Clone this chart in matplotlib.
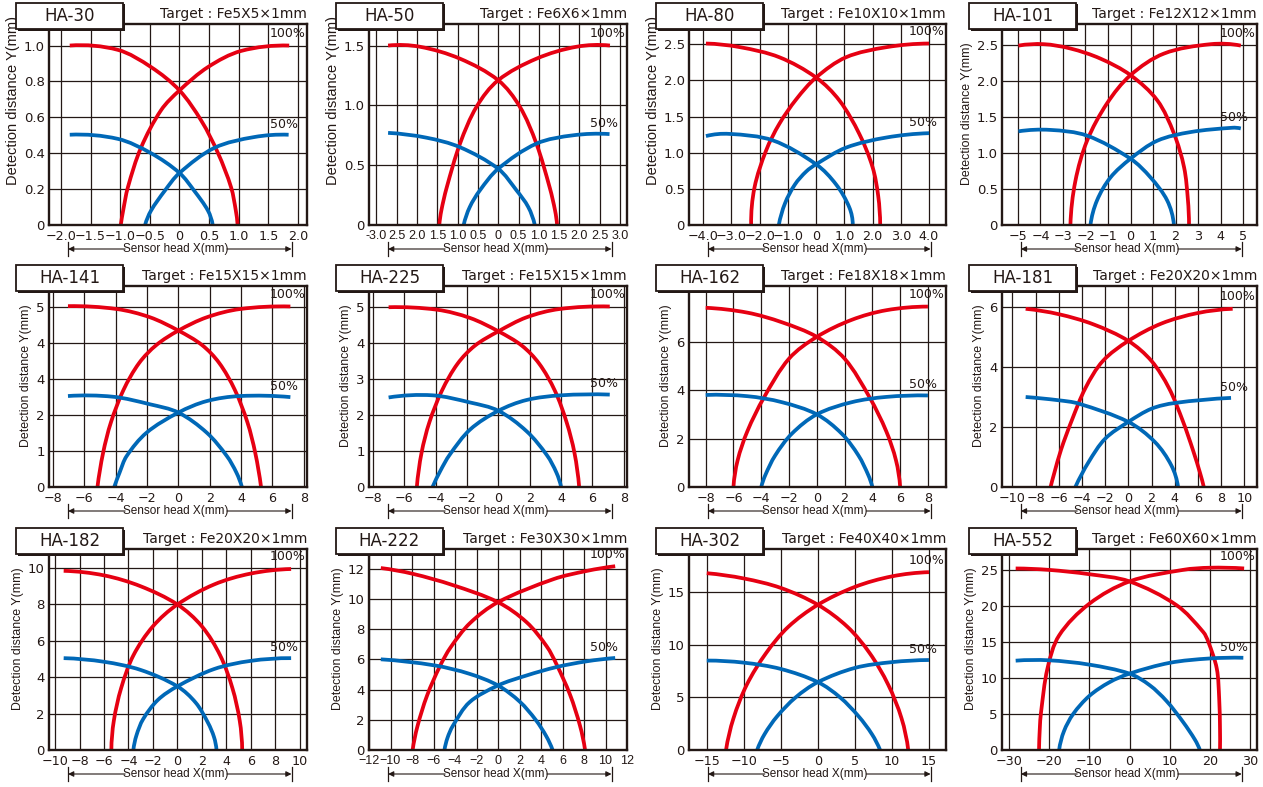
import matplotlib
matplotlib.use("Agg")
import matplotlib.pyplot as plt
from matplotlib.patches import Rectangle, PathPatch
from matplotlib.path import Path
import numpy as np

# ---------------- data ----------------
M = "\u2212"
titles = ["HA-30", "HA-50", "HA-80", "HA-101",
          "HA-141", "HA-225", "HA-162", "HA-181",
          "HA-182", "HA-222", "HA-302", "HA-552"]
targets = ["Target : Fe5X5×1mm", "Target : Fe6X6×1mm", "Target : Fe10X10×1mm", "Target : Fe12X12×1mm",
           "Target : Fe15X15×1mm", "Target : Fe15X15×1mm", "Target : Fe18X18×1mm", "Target : Fe20X20×1mm",
           "Target : Fe20X20×1mm", "Target : Fe30X30×1mm", "Target : Fe40X40×1mm", "Target : Fe60X60×1mm"]

ha30_xticks = [-2.0, -1.5, -1.0, -0.5, 0, 0.5, 1.0, 1.5, 2.0]
ha30_xlabels = [M+"2.0", M+"1.5", M+"1.0", M+"0.5", "0", "0.5", "1.0", "1.5", "2.0"]
ha30_yticks = [0, 0.2, 0.4, 0.6, 0.8, 1.0]
ha30_ylabels = ["0", "0.2", "0.4", "0.6", "0.8", "1.0"]
ha30_red_down = [(-1.85, 1.0), (-1.04, 0.976), (-0.48, 0.88), (0, 0.75), (0.37, 0.58), (0.65, 0.40), (0.87, 0.21), (0.95, 0.08), (0.98, 0)]
ha30_red_up = [(-0.99, 0), (-0.95, 0.08), (-0.87, 0.21), (-0.65, 0.43), (-0.31, 0.64), (0, 0.75), (0.48, 0.88), (1.04, 0.97), (1.85, 1.0)]
ha30_blue_down = [(-1.85, 0.503), (-1.04, 0.48), (-0.48, 0.40), (0, 0.29), (0.25, 0.19), (0.48, 0.08), (0.56, 0)]
ha30_blue_up = [(-0.58, 0), (-0.48, 0.08), (-0.25, 0.19), (0, 0.29), (0.59, 0.43), (1.26, 0.49), (1.84, 0.503)]

ha50_xticks = [-3.0, -2.5, -2.0, -1.5, -1.0, -0.5, 0, 0.5, 1.0, 1.5, 2.0, 2.5, 3.0]
ha50_xlabels = ["-3.0", "2.5", "2.0", "1.5", "1.0", "0.5", "0", "0.5", "1.0", "1.5", "2.0", "2.5", "3.0"]
ha50_yticks = [0, 0.5, 1.0, 1.5]
ha50_ylabels = ["0", "0.5", "1.0", "1.5"]
ha50_red_down = [(-2.71, 1.5), (-1.93, 1.49), (-0.94, 1.39), (0, 1.21), (0.53, 0.99), (0.94, 0.68), (1.27, 0.31), (1.4, 0.12), (1.45, 0)]
ha50_red_up = [(-1.45, 0), (-1.4, 0.12), (-1.27, 0.31), (-0.94, 0.68), (-0.53, 0.99), (0, 1.21), (0.94, 1.39), (1.93, 1.49), (2.75, 1.5)]
ha50_blue_down = [(-2.71, 0.77), (-1.77, 0.73), (-0.94, 0.65), (0, 0.47), (0.45, 0.29), (0.74, 0.15), (0.9, 0)]
ha50_blue_up = [(-0.85, 0), (-0.7, 0.15), (-0.45, 0.29), (0, 0.47), (0.94, 0.68), (1.85, 0.75), (2.74, 0.76)]

ha80_xticks = [-4.0, -3.0, -2.0, -1.0, 0, 1.0, 2.0, 3.0, 4.0]
ha80_xlabels = [M+"4.0", M+"3.0", M+"2.0", M+"1.0", "0", "1.0", "2.0", "3.0", "4.0"]
ha80_yticks = [0, 0.5, 1.0, 1.5, 2.0, 2.5]
ha80_ylabels = ["0", "0.5", "1.0", "1.5", "2.0", "2.5"]
ha80_red_down = [(-3.9, 2.51), (-2.7, 2.46), (-1.3, 2.32), (0, 2.04), (0.83, 1.72), (1.53, 1.26), (2.0, 0.8), (2.2, 0.4), (2.27, 0)]
ha80_red_up = [(-2.3, 0), (-2.18, 0.52), (-1.77, 1.03), (-1.3, 1.4), (-0.7, 1.74), (0, 2.04), (1.06, 2.32), (2.5, 2.46), (4.0, 2.51)]
ha80_blue_down = [(-3.9, 1.23), (-3.07, 1.26), (-1.53, 1.17), (0, 0.84), (0.71, 0.56), (1.18, 0.24), (1.3, 0)]
ha80_blue_up = [(-1.32, 0), (-1.1, 0.3), (-0.75, 0.56), (-0.35, 0.74), (0, 0.84), (1.06, 1.07), (2.49, 1.21), (4.0, 1.27)]

ha101_xticks = [-5, -4, -3, -2, -1, 0, 1, 2, 3, 4, 5]
ha101_xlabels = [M+"5", M+"4", M+"3", M+"2", M+"1", "0", "1", "2", "3", "4", "5"]
ha101_yticks = [0, 0.5, 1.0, 1.5, 2.0, 2.5]
ha101_ylabels = ["0", "0.5", "1.0", "1.5", "2.0", "2.5"]
ha101_red_down = [(-4.98, 2.49), (-3.86, 2.51), (-2.67, 2.45), (-1.34, 2.31), (0, 2.08), (1.19, 1.73), (1.93, 1.27), (2.38, 0.8), (2.55, 0.35), (2.6, 0)]
ha101_red_up = [(-2.67, 0), (-2.45, 0.61), (-1.93, 1.17), (-1.04, 1.69), (0, 2.08), (1.49, 2.38), (3.57, 2.51), (4.9, 2.49)]
ha101_blue_down = [(-4.98, 1.30), (-3.57, 1.32), (-1.93, 1.24), (0, 0.92), (0.89, 0.66), (1.63, 0.34), (1.93, 0)]
ha101_blue_up = [(-1.78, 0), (-1.49, 0.34), (-0.89, 0.66), (0, 0.92), (1.19, 1.17), (2.67, 1.29), (4.53, 1.35), (4.9, 1.34)]

ha141_xticks = [-8, -6, -4, -2, 0, 2, 4, 6, 8]
ha141_xlabels = [M+"8", M+"6", M+"4", M+"2", "0", "2", "4", "6", "8"]
ha141_yticks = [0, 1, 2, 3, 4, 5]
ha141_ylabels = ["0", "1", "2", "4", "4", "5"]
ha141_red_down = [(-7.04, 5.03), (-3.94, 4.95), (-1.81, 4.72), (0, 4.35), (1.5, 3.95), (2.6, 3.45), (3.6, 2.7), (4.4, 1.8), (4.9, 0.95), (5.27, 0)]
ha141_red_up = [(-5.16, 0), (-4.8, 0.95), (-4.3, 1.8), (-3.5, 2.7), (-2.5, 3.45), (-1.4, 3.95), (0, 4.35), (1.81, 4.72), (3.94, 4.95), (7.14, 5.02)]
ha141_blue_down = [(-7.04, 2.53), (-4.16, 2.51), (-1.81, 2.3), (0, 2.07), (1.81, 1.51), (3.09, 0.86), (3.7, 0.4), (4.05, 0)]
ha141_blue_up = [(-4.09, 0), (-3.75, 0.4), (-3.3, 0.86), (-2.03, 1.51), (0, 2.07), (1.81, 2.39), (3.94, 2.53), (7.14, 2.5)]

ha225_xticks = [-8, -6, -4, -2, 0, 2, 4, 6, 8]
ha225_xlabels = [M+"8", M+"6", M+"4", M+"2", "0", "2", "4", "6", "8"]
ha225_yticks = [0, 1, 2, 3, 4, 5]
ha225_ylabels = ["0", "1", "2", "3", "4", "5"]
ha225_red_down = [(-7.0, 5.0), (-3.9, 4.93), (-1.8, 4.7), (0, 4.33), (1.5, 3.93), (2.6, 3.43), (3.6, 2.68), (4.35, 1.8), (4.85, 0.95), (5.15, 0)]
ha225_red_up = [(-5.2, 0), (-4.9, 0.95), (-4.4, 1.8), (-3.6, 2.68), (-2.6, 3.43), (-1.5, 3.93), (0, 4.33), (1.8, 4.72), (3.9, 4.95), (7.1, 5.02)]
ha225_blue_down = [(-7.0, 2.49), (-4.2, 2.55), (-1.8, 2.35), (0, 2.12), (1.8, 1.55), (3.1, 0.88), (3.7, 0.4), (4.0, 0)]
ha225_blue_up = [(-4.2, 0), (-3.7, 0.45), (-3.1, 0.9), (-1.8, 1.6), (0, 2.12), (1.8, 2.42), (4.0, 2.55), (7.1, 2.57)]

ha162_xticks = [-8, -6, -4, -2, 0, 2, 4, 6, 8]
ha162_xlabels = [M+"8", M+"6", M+"4", M+"2", "0", "2", "4", "6", "8"]
ha162_yticks = [0, 2, 4, 6]
ha162_ylabels = ["0", "2", "4", "6"]
ha162_red_down = [(-8, 7.4), (-5, 7.2), (-2.5, 6.8), (0, 6.2), (2, 5.3), (3.8, 3.7), (5, 2.3), (5.7, 1.1), (6.0, 0)]
ha162_red_up = [(-6.0, 0), (-5.7, 1.1), (-5, 2.3), (-3.8, 3.7), (-2, 5.3), (0, 6.2), (2.5, 6.9), (5, 7.3), (8, 7.45)]
ha162_blue_down = [(-8, 3.8), (-5, 3.75), (-2.5, 3.5), (0, 3.0), (1.8, 2.2), (3.0, 1.3), (3.7, 0.5), (4.0, 0)]
ha162_blue_up = [(-4.0, 0), (-3.7, 0.5), (-3.0, 1.3), (-1.8, 2.2), (0, 3.0), (2.5, 3.5), (5, 3.72), (8, 3.78)]

ha181_xticks = [-10, -8, -6, -4, -2, 0, 2, 4, 6, 8, 10]
ha181_xlabels = [M+"10", M+"8", M+"6", M+"4", M+"2", "0", "2", "4", "6", "8", "10"]
ha181_yticks = [0, 2, 4, 6]
ha181_ylabels = ["0", "2", "4", "6"]
ha181_red_down = [(-8.86, 5.94), (-6, 5.76), (-3, 5.42), (0, 4.87), (2, 4.2), (3.5, 3.3), (4.7, 2.2), (5.6, 1.2), (6.2, 0.45), (6.51, 0)]
ha181_red_up = [(-6.71, 0), (-6.4, 0.45), (-5.8, 1.25), (-4.9, 2.2), (-3.7, 3.3), (-2.2, 4.2), (0, 4.87), (2.86, 5.45), (6, 5.8), (9, 5.94)]
ha181_blue_down = [(-8.86, 3.0), (-6, 2.89), (-4.29, 2.78), (0, 2.17), (2.29, 1.5), (3.71, 0.72), (4.29, 0)]
ha181_blue_up = [(-4.57, 0), (-3.43, 0.83), (-2, 1.61), (0, 2.17), (2, 2.61), (4, 2.8), (8.86, 2.97)]

ha182_xticks = [-10, -8, -6, -4, -2, 0, 2, 4, 6, 8, 10]
ha182_xlabels = [M+"10", M+"8", M+"6", M+"4", M+"2", "0", "2", "4", "6", "8", "10"]
ha182_yticks = [0, 2, 4, 6, 8, 10]
ha182_ylabels = ["0", "2", "4", "6", "8", "10"]
ha182_red_down = [(-9.3, 9.85), (-6, 9.6), (-3, 9.0), (0, 8.0), (2, 6.8), (3.5, 5.2), (4.5, 3.4), (5.1, 1.6), (5.3, 0)]
ha182_red_up = [(-5.4, 0), (-5.2, 1.6), (-4.6, 3.4), (-3.6, 5.2), (-2, 6.8), (0, 8.0), (3, 9.1), (6, 9.7), (9.3, 9.95)]
ha182_blue_down = [(-9.3, 5.05), (-6, 4.85), (-3, 4.4), (0, 3.5), (1.5, 2.6), (2.5, 1.5), (3.0, 0.7), (3.2, 0)]
ha182_blue_up = [(-3.6, 0), (-3.35, 0.8), (-2.8, 1.7), (-1.6, 2.75), (0, 3.5), (3, 4.45), (6, 4.9), (9.3, 5.05)]

ha222_xticks = [-12, -10, -8, -6, -4, -2, 0, 2, 4, 6, 8, 10, 12]
ha222_xlabels = [M+"12", M+"10", M+"8", M+"6", M+"4", M+"2", "0", "2", "4", "6", "8", "10", "12"]
ha222_yticks = [0, 2, 4, 6, 8, 10, 12]
ha222_ylabels = ["0", "2", "4", "6", "8", "10", "12"]
ha222_red_down = [(-10.9, 12.04), (-7.94, 11.66), (-4.2, 10.91), (0, 9.78), (2.65, 8.46), (4.52, 6.87), (5.45, 5.66), (6.7, 3.66), (7.63, 1.6), (8.1, 0)]
ha222_red_up = [(-7.94, 0), (-7.5, 1.55), (-6.6, 3.6), (-5.4, 5.55), (-4.4, 6.8), (-2.6, 8.4), (0, 9.78), (5.14, 11.3), (8.26, 11.85), (10.9, 12.16)]
ha222_blue_down = [(-10.9, 6.0), (-5.92, 5.6), (-2.65, 5.04), (0, 4.27), (2.02, 3.2), (3.5, 2.0), (4.5, 0.9), (5.08, 0)]
ha222_blue_up = [(-4.98, 0), (-4.7, 0.8), (-4.2, 1.6), (-2.65, 3.16), (0, 4.27), (2.65, 4.93), (5.45, 5.49), (8.26, 5.87), (10.9, 6.09)]

ha302_xticks = [-15, -10, -5, 0, 5, 10, 15]
ha302_xlabels = [M+"15", M+"10", M+"5", "0", "5", "10", "15"]
ha302_yticks = [0, 5, 10, 15]
ha302_ylabels = ["0", "5", "10", "15"]
ha302_red_down = [(-15, 16.8), (-10, 16.3), (-5, 15.4), (0, 13.8), (4, 11.7), (7, 9.2), (9.5, 6.2), (11.3, 3.0), (12.2, 0)]
ha302_red_up = [(-12.4, 0), (-11.4, 3.0), (-9.6, 6.2), (-7, 9.2), (-4, 11.7), (0, 13.8), (5, 15.5), (10, 16.5), (15, 16.9)]
ha302_blue_down = [(-15, 8.5), (-10, 8.3), (-5, 7.7), (0, 6.45), (3, 5.0), (5.5, 3.2), (7.3, 1.5), (8.4, 0)]
ha302_blue_up = [(-8.2, 0), (-7.2, 1.5), (-5.5, 3.2), (-3, 5.0), (0, 6.45), (5, 7.8), (10, 8.35), (15, 8.55)]

ha552_xticks = [-30, -20, -10, 0, 10, 20, 30]
ha552_xlabels = [M+"30", M+"20", M+"10", "0", "10", "20", "30"]
ha552_yticks = [0, 5, 10, 15, 20, 25]
ha552_ylabels = ["0", "5", "10", "15", "20", "25"]
ha552_red_down = [(-28.3, 25.2), (-20, 25.0), (-10, 24.4), (0, 23.4), (11.7, 20.1), (18.3, 16.4), (19.6, 15.0), (21.7, 11.3), (22.3, 7.1), (22.5, 3.0), (22.5, 0)]
ha552_red_up = [(-22.5, 0), (-22.3, 3.0), (-22, 5.2), (-20.4, 11.3), (-17.5, 15.9), (-10, 20.3), (0, 23.4), (13.3, 25.0), (20, 25.3), (28.5, 25.2)]
ha552_blue_down = [(-28.3, 12.4), (-20, 12.45), (-10, 11.85), (0, 10.6), (5, 9.0), (9.2, 6.8), (13.3, 3.9), (16.3, 1.4), (17.5, 0)]
ha552_blue_up = [(-17.5, 0), (-16.3, 2.6), (-14, 5.0), (-10, 7.5), (-5, 9.4), (0, 10.6), (10, 12.1), (19.8, 12.7), (28.3, 12.8)]

xticks = [ha30_xticks, ha50_xticks, ha80_xticks, ha101_xticks, ha141_xticks, ha225_xticks,
          ha162_xticks, ha181_xticks, ha182_xticks, ha222_xticks, ha302_xticks, ha552_xticks]
xlabels = [ha30_xlabels, ha50_xlabels, ha80_xlabels, ha101_xlabels, ha141_xlabels, ha225_xlabels,
           ha162_xlabels, ha181_xlabels, ha182_xlabels, ha222_xlabels, ha302_xlabels, ha552_xlabels]
yticks = [ha30_yticks, ha50_yticks, ha80_yticks, ha101_yticks, ha141_yticks, ha225_yticks,
          ha162_yticks, ha181_yticks, ha182_yticks, ha222_yticks, ha302_yticks, ha552_yticks]
ylabels = [ha30_ylabels, ha50_ylabels, ha80_ylabels, ha101_ylabels, ha141_ylabels, ha225_ylabels,
           ha162_ylabels, ha181_ylabels, ha182_ylabels, ha222_ylabels, ha302_ylabels, ha552_ylabels]
red_down = [ha30_red_down, ha50_red_down, ha80_red_down, ha101_red_down, ha141_red_down, ha225_red_down,
            ha162_red_down, ha181_red_down, ha182_red_down, ha222_red_down, ha302_red_down, ha552_red_down]
red_up = [ha30_red_up, ha50_red_up, ha80_red_up, ha101_red_up, ha141_red_up, ha225_red_up,
          ha162_red_up, ha181_red_up, ha182_red_up, ha222_red_up, ha302_red_up, ha552_red_up]
blue_down = [ha30_blue_down, ha50_blue_down, ha80_blue_down, ha101_blue_down, ha141_blue_down, ha225_blue_down,
             ha162_blue_down, ha181_blue_down, ha182_blue_down, ha222_blue_down, ha302_blue_down, ha552_blue_down]
blue_up = [ha30_blue_up, ha50_blue_up, ha80_blue_up, ha101_blue_up, ha141_blue_up, ha225_blue_up,
           ha162_blue_up, ha181_blue_up, ha182_blue_up, ha222_blue_up, ha302_blue_up, ha552_blue_up]

# ---------------- layout / style ----------------
xlims = [(-2.2, 2.15), (-3.18, 3.17), (-4.5, 4.6), (-5.71, 5.62),
         (-8.25, 8.2), (-8.25, 8.2), (-9.2, 9.3), (-10.9, 11.1),
         (-10.5, 10.6), (-12.0, 12.0), (-17.4, 17.3), (-31.7, 31.7)]
ylims = [(0, 1.12), (0, 1.68), (0, 2.78), (0, 2.79),
         (0, 5.59), (0, 5.59), (0, 8.3), (0, 6.7),
         (0, 11.05), (0, 13.3), (0, 19.1), (0, 27.9)]
ylabel_size = [10.5, 10.5, 10.5, 8.9, 8.9, 8.9, 8.9, 8.9, 8.9, 8.9, 8.9, 8.9]
narrow_xticks = [False, True, False, False, False, False, False, False, False, True, False, False]

W, H = 1263, 787
col_left = [49, 369, 689, 1002]
col_w = [258, 258, 257, 255]
row_top = [24, 286, 549]
AX_H = 201

RED = "#e60012"
BLUE = "#0068b7"
INK = "#231815"
NARROW = ["Liberation Sans", "DejaVu Sans"]
plt.rcParams["font.family"] = ["DejaVu Sans"]

fig = plt.figure(figsize=(W / 100, H / 100), dpi=100)
fig.patch.set_facecolor("white")


def fx(px):
    return px / W


def fy(py):
    return 1 - py / H


def smooth_curve(ax, pts, wpx, hpx, color):
    """Draw a smooth Bezier path through the read points (chord-length Hermite)."""
    x0, x1 = ax.get_xlim()
    y0, y1 = ax.get_ylim()
    sx = (x1 - x0) / wpx
    sy = (y1 - y0) / hpx
    P = np.array([((x - x0) / sx, (y - y0) / sy) for x, y in pts], dtype=float)
    n = len(P)
    d = np.linalg.norm(np.diff(P, axis=0), axis=1)
    T = np.zeros_like(P)
    for k in range(1, n - 1):
        T[k] = (P[k + 1] - P[k - 1]) / (d[k - 1] + d[k])
    T[0] = 2 * (P[1] - P[0]) / d[0] - T[1]
    T[-1] = 2 * (P[-1] - P[-2]) / d[-1] - T[-2]
    verts = [P[0]]
    codes = [Path.MOVETO]
    for k in range(n - 1):
        verts.append(P[k] + T[k] * d[k] / 3)
        verts.append(P[k + 1] - T[k + 1] * d[k] / 3)
        verts.append(P[k + 1])
        codes += [Path.CURVE4] * 3
    V = np.array(verts)
    V[:, 0] = V[:, 0] * sx + x0
    V[:, 1] = V[:, 1] * sy + y0
    patch = PathPatch(Path(V, codes), facecolor="none", edgecolor=color, lw=2.7,
                      capstyle="butt", joinstyle="round", clip_on=False, zorder=4)
    ax.add_patch(patch)


for i in range(12):
    r, c = divmod(i, 4)
    L, T, Wd = col_left[c], row_top[r], col_w[c]
    ax = fig.add_axes([fx(L), fy(T + AX_H), Wd / W, AX_H / H])
    ax.set_xlim(*xlims[i])
    ax.set_ylim(*ylims[i])
    ax.set_xticks(xticks[i])
    if narrow_xticks[i]:
        ax.set_xticklabels(xlabels[i], family=NARROW, fontsize=9)
    else:
        ax.set_xticklabels(xlabels[i], fontsize=9.2)
    ax.set_yticks(yticks[i])
    ax.set_yticklabels(ylabels[i], fontsize=9.5)
    ax.tick_params(axis="x", length=0, pad=3.6, colors=INK)
    ax.tick_params(axis="y", length=0, pad=3, colors=INK)
    ax.grid(True, color=INK, lw=0.9)
    ax.set_axisbelow(True)
    for s in ax.spines.values():
        s.set_color(INK)
        s.set_linewidth(1.7)
        s.set_zorder(5)

    for pts, col in ((red_down[i], RED), (red_up[i], RED), (blue_down[i], BLUE), (blue_up[i], BLUE)):
        smooth_curve(ax, pts, Wd, AX_H, col)

    ax.annotate("100%", xy=(0.995, red_up[i][-1][1]), xycoords=("axes fraction", "data"),
                xytext=(0, 4), textcoords="offset points", ha="right", va="bottom",
                fontsize=9, color=INK, zorder=6)
    ax.annotate("50%", xy=(0.965, blue_up[i][-1][1]), xycoords=("axes fraction", "data"),
                xytext=(0, 3), textcoords="offset points", ha="right", va="bottom",
                fontsize=9, color=INK, zorder=6)

    ax.set_ylabel("Detection distance Y(mm)", fontsize=ylabel_size[i], color=INK,
                  ha="left", y=0.2, labelpad=3, family=NARROW)

    # x axis caption with arrows
    yc = -24 / AX_H
    ax.text(0.49, yc, "Sensor head X(mm)", transform=ax.transAxes, ha="center", va="center",
            fontsize=8.5, color=INK, family=NARROW)
    ap = dict(arrowstyle="-|>", color=INK, lw=0.8, mutation_scale=8, shrinkA=0, shrinkB=0)
    ax.annotate("", xy=(0.074, yc), xytext=(0.295, yc), xycoords="axes fraction", arrowprops=ap)
    ax.annotate("", xy=(0.94, yc), xytext=(0.69, yc), xycoords="axes fraction", arrowprops=ap)
    for bx in (0.074, 0.94):
        ax.plot([bx, bx], [yc - 0.035, yc + 0.035], transform=ax.transAxes, color=INK, lw=0.9,
                clip_on=False)

    # target text
    ax.text(1.0, 1.0 + 6 / AX_H, targets[i], transform=ax.transAxes, ha="right", va="baseline",
            fontsize=10, color=INK)

    # title box
    bx0, bx1 = L - 33, L + 74
    by0, by1 = T - 21, T + 5
    shadow = Rectangle((fx(bx0 + 1.5), fy(by1 + 1.5)), (bx1 - bx0) / W, (by1 - by0) / H,
                       transform=fig.transFigure, facecolor=INK, edgecolor=INK, lw=0, zorder=10)
    box = Rectangle((fx(bx0), fy(by1)), (bx1 - bx0) / W, (by1 - by0) / H,
                    transform=fig.transFigure, facecolor="white", edgecolor=INK, lw=1.3, zorder=11)
    fig.add_artist(shadow)
    fig.add_artist(box)
    fig.text(fx((bx0 + bx1) / 2), fy((by0 + by1) / 2), titles[i], ha="center", va="center",
             fontsize=12, color=INK, zorder=12)

fig.savefig("out.png", dpi=100, facecolor="white")
